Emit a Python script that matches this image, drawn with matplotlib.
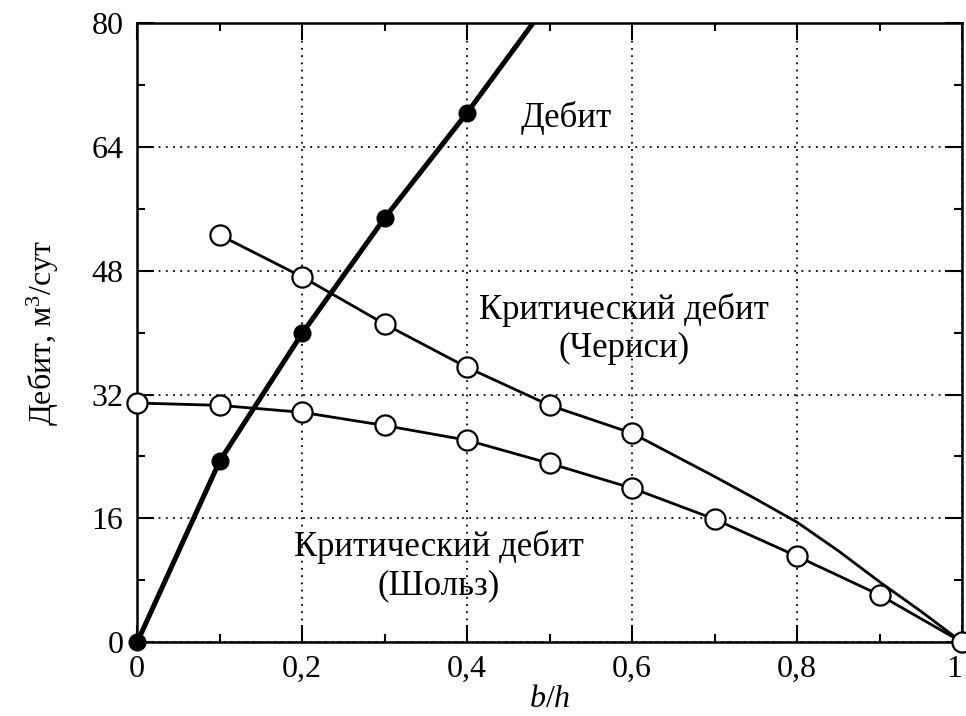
import numpy as np
import matplotlib.pyplot as plt
from matplotlib.ticker import MultipleLocator

plt.rcParams['font.family'] = ['Liberation Serif', 'DejaVu Serif']
plt.rcParams['mathtext.fontset'] = 'custom'
plt.rcParams['mathtext.rm'] = 'Liberation Serif'
plt.rcParams['mathtext.it'] = 'Liberation Serif:italic'

# Дебит скважины
bh_q = [0.0, 0.1, 0.2, 0.3, 0.4]
q = [0.0, 23.4, 39.9, 54.8, 68.4]
# продолжение кривой до верхней границы
bh_q_tail = [0.4, 0.48]
q_tail = [68.4, 80.0]

# Критический дебит (Чериси)
bh_ch = [0.1, 0.2, 0.3, 0.4, 0.5, 0.6]
q_ch = [52.6, 47.2, 41.1, 35.5, 30.6, 27.0]
bh_ch_tail = [0.6, 0.7, 0.75, 0.8, 0.85, 0.9, 0.95, 1.0]
q_ch_tail = [27.0, 21.4, 18.5, 15.5, 11.8, 7.8, 4.0, 0.0]

# Критический дебит (Шольз)
bh_sh = [0.0, 0.1, 0.2, 0.3, 0.4, 0.5, 0.6, 0.7, 0.8, 0.9, 1.0]
q_sh = [30.9, 30.6, 29.7, 28.0, 26.1, 23.1, 19.9, 15.9, 11.1, 6.1, 0.0]

xticks = [0, 0.2, 0.4, 0.6, 0.8, 1.0]
xtick_labels = ['0', '0,2', '0,4', '0,6', '0,8', '1']
yticks = [0, 16, 32, 48, 64, 80]

fig = plt.figure(figsize=(9.66, 7.16), dpi=100)
ax = fig.add_axes([0.142, 0.103, 0.854, 0.865])

ax.plot(bh_ch_tail, q_ch_tail, color='black', lw=2.0, zorder=3)
ax.plot(bh_ch, q_ch, color='black', lw=2.0, marker='o', ms=14.5,
        mfc='white', mec='black', mew=1.6, zorder=4, clip_on=False)
ax.plot(bh_sh, q_sh, color='black', lw=2.0, marker='o', ms=14.5,
        mfc='white', mec='black', mew=1.6, zorder=4, clip_on=False)
ax.plot(bh_q_tail, q_tail, color='black', lw=3.6, zorder=5)
ax.plot(bh_q, q, color='black', lw=3.6, marker='o', ms=12,
        mfc='black', mec='black', zorder=6, clip_on=False)

ax.set_xlim(0, 1)
ax.set_ylim(0, 80)
ax.set_xticks(xticks)
ax.set_xticklabels(xtick_labels)
ax.set_yticks(yticks)
ax.xaxis.set_minor_locator(MultipleLocator(0.1))
ax.yaxis.set_minor_locator(MultipleLocator(8))

ax.tick_params(which='both', direction='in', top=True, right=True,
               width=1.5, labelsize=23, colors='black')
ax.tick_params(which='major', length=12)
ax.tick_params(which='minor', length=6)
ax.tick_params(axis='y', pad=10)
ax.tick_params(axis='x', pad=9)
# последняя подпись у правого края
ax.get_xticklabels()[-1].set_horizontalalignment('right')

for s in ax.spines.values():
    s.set_linewidth(1.8)

ax.grid(True, which='major', linestyle=(0, (1, 3)), color='black', lw=1.3)

ax.set_xlabel('$b/h$', fontsize=23, labelpad=1)
ax.set_ylabel('Дебит, м$^3$/сут', fontsize=23, labelpad=22)

ax.text(0.52, 67.7, 'Дебит', fontsize=25, ha='center', va='center')
ax.text(0.59, 40.5, 'Критический дебит\n(Чериси)', fontsize=25,
        ha='center', va='center', linespacing=1.2)
ax.text(0.366, 9.8, 'Критический дебит\n(Шольз)', fontsize=25,
        ha='center', va='center', linespacing=1.2)

fig.savefig('out.png', dpi=100)
